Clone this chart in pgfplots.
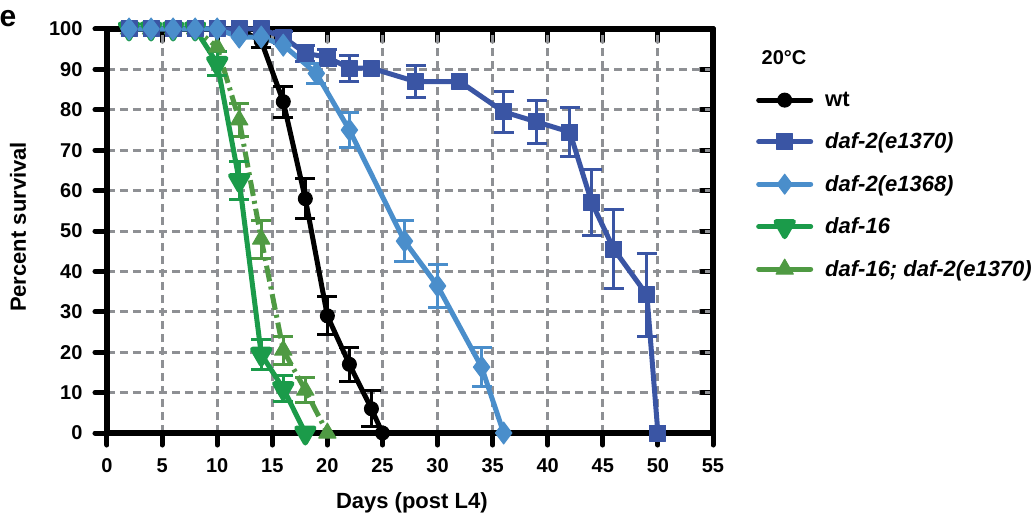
\documentclass[border=0pt]{standalone}
\usepackage{fontspec}
\setmainfont{Liberation Sans}
\usepackage{pgfplots}
\usepackage{pgfplotstable}
\pgfplotsset{compat=1.18}

\definecolor{wtc}{HTML}{000000}
\definecolor{e1370}{HTML}{3A55A4}
\definecolor{e1368}{HTML}{4A8ECB}
\definecolor{d16}{HTML}{1B9B4A}
\definecolor{d16b}{HTML}{4F9A43}
\definecolor{gridgray}{HTML}{8E9094}

% survival curves: day, percent
\pgfplotstableread{
x y
2 100
4 100
6 100
8 100
10 100
12 100
14 97
16 82
18 58
20 29
22 17
24 6
25 0
}\wt
\pgfplotstableread{
x y
2 100
4 100
6 100
8 100
10 100
12 100
14 100
16 98
18 94
20 93
22 90.3
24 90.3
28 87
32 87
36 79.5
39 77
42 74.5
44 57
46 45.5
49 34.2
50 0
}\dafA
\pgfplotstableread{
x y
2 100
4 100
6 100
8 100
10 100
12 98
14 98
16 96
19 89
22 75
27 47.5
30 36.4
34 16.3
36 0
}\dafB
\pgfplotstableread{
x y
2 100
4 100
6 100
8 100
10 91.5
12 62.5
14 19.5
16 11
18 0
}\dafC
\pgfplotstableread{
x y
2 100
4 100
6 100
8 100
10 95.5
12 77.5
14 48
16 20.5
18 10.6
20 0
}\dafD

% error bars (only points that have them): day, percent, sem
\pgfplotstableread{
x y e
14 97 1.5
16 82 3.8
18 58 5
20 29 4.7
22 17 4.2
24 6 4.5
}\wtE
\pgfplotstableread{
x y e
16 98 1.5
18 94 2
20 93 2
22 90.3 3.2
28 87 4
36 79.5 5
39 77 5.3
42 74.5 6
44 57 8.2
46 45.5 9.7
49 34.2 10.2
}\dafAE
\pgfplotstableread{
x y e
19 89 2.5
22 75 4.4
27 47.5 5
30 36.4 5.4
34 16.3 4.8
}\dafBE
\pgfplotstableread{
x y e
10 91.5 3
12 62.5 4.8
14 19.5 3.7
16 11 3.2
}\dafCE
\pgfplotstableread{
x y e
12 77.5 4
14 48 4.7
16 20.5 3.5
18 10.6 3.1
}\dafDE

\pgfplotsset{
  survbase/.style={
    width=606pt, height=404pt, scale only axis,
    at={(0pt,0pt)}, anchor=south west,
    xmin=0, xmax=55, ymin=0, ymax=100,
    xtick={0,5,...,55}, ytick={0,10,...,100},
    axis line style={line width=6pt, line join=round},
    major tick length=12pt,
    major tick style={line width=5pt, line cap=round, black},
    clip=false,
  },
  errs/.style={#1, only marks, mark=*, mark size=0pt, forget plot,
    error bars/.cd, y dir=both, y explicit,
    error bar style={line width=3pt, #1},
    error mark options={rotate=90, mark size=10pt, line width=3pt, #1}},
  mk/.style={mark options={line width=1pt, solid}},
}

\begin{document}
\begin{tikzpicture}
% top and right ticks point inward
\begin{axis}[survbase, tick align=inside, xtick pos=right, ytick pos=right,
  xticklabels={}, yticklabels={}]
\addplot[draw=none, forget plot] coordinates {(0,0)};
\end{axis}

\begin{axis}[survbase, tick align=outside, xtick pos=left, ytick pos=left,
  grid=major,
  major grid style={gridgray, line width=3pt, dash pattern=on 8pt off 5pt},
  /pgf/number format/assume math mode=true,
  ticklabel style={font=\fontsize{20}{20}\selectfont\bfseries},
  xticklabel style={yshift=-10pt},
  yticklabel style={xshift=-9pt},
  xlabel={Days (post L4)}, ylabel={Percent survival},
  label style={font=\fontsize{22}{22}\selectfont\bfseries},
  xlabel style={at={(axis description cs:0.503,-0.173)}, anchor=center},
  ylabel style={at={(axis description cs:-0.147,0.51)}, anchor=center},
  legend style={at={(axis description cs:1.066,0.854)}, anchor=north west,
    draw=none, fill=none, row sep=21pt, column sep=10pt,
    font=\fontsize{22}{22}\selectfont\bfseries},
  legend cell align=left,
  legend image code/.code={
    \draw[mark repeat=2, mark phase=2, #1] plot coordinates {(0pt,0pt) (26pt,0pt) (52pt,0pt)};},
  every axis plot/.append style={line width=5pt, line join=round},
]
% legend entries in the reference order
\addlegendimage{wtc, line cap=round, mark=*, mark size=7pt, mk}
\addlegendentry{wt}
\addlegendimage{e1370, line cap=round, mark=square*, mark size=8pt, mk}
\addlegendentry{\textit{daf-2(e1370)}}
\addlegendimage{e1368, line cap=round, mark=diamond*, mark size=10pt, mk}
\addlegendentry{\textit{daf-2(e1368)}}
\addlegendimage{d16, line cap=round, mark=triangle*, mark size=10pt, mk, mark options={rotate=180}}
\addlegendentry{\textit{daf-16}}
\addlegendimage{d16b, line cap=round, mark=triangle*, mark size=10pt, mk}
\addlegendentry{\textit{daf-16; daf-2(e1370)}}

% curves
\addplot[d16b, dash pattern=on 16pt off 5pt on 3pt off 5pt, forget plot,
  mark=triangle*, mark size=10pt, mk] table[x=x,y=y] {\dafD};
\addplot[errs=d16b] table[x=x,y=y,y error=e] {\dafDE};
\addplot[d16, forget plot, mark=triangle*, mark size=10pt, mk,
  mark options={rotate=180}] table[x=x,y=y] {\dafC};
\addplot[errs=d16] table[x=x,y=y,y error=e] {\dafCE};
\addplot[wtc, forget plot, mark=*, mark size=7pt, mk] table[x=x,y=y] {\wt};
\addplot[errs=wtc] table[x=x,y=y,y error=e] {\wtE};
\addplot[e1370, forget plot, mark=square*, mark size=8pt, mk] table[x=x,y=y] {\dafA};
\addplot[errs=e1370] table[x=x,y=y,y error=e] {\dafAE};
\addplot[e1368, forget plot, mark=diamond*, mark size=11pt, mk] table[x=x,y=y] {\dafB};
\addplot[errs=e1368] table[x=x,y=y,y error=e] {\dafBE};

\node[anchor=west, inner sep=0pt, font=\fontsize{20}{20}\selectfont\bfseries]
  at (axis description cs:1.08,0.928) {20°C};
\end{axis}

\node[font=\fontsize{30}{30}\selectfont\bfseries] at (-99pt,414pt) {e};

\pgfresetboundingbox
\path[use as bounding box] (-107pt,-87pt) rectangle (928pt,433pt);
\end{tikzpicture}
\end{document}
